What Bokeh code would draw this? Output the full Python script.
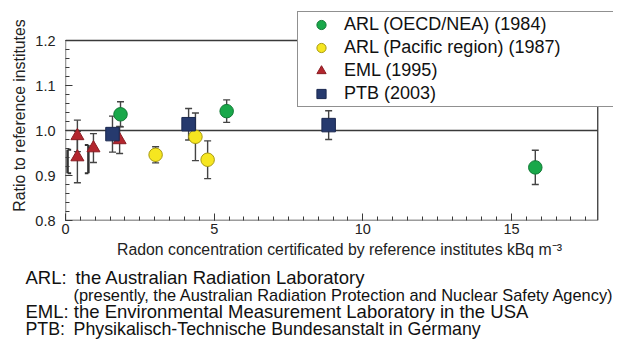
from bokeh.plotting import figure
from bokeh.models import (ColumnDataSource, Whisker, TeeHead, Legend, LegendItem,
                          Range1d, FixedTicker, NumeralTickFormatter, Title)
from bokeh.embed import file_html
from bokeh.resources import INLINE

FONT = "Liberation Sans"

# ---- data ----
green_x = [1.85, 5.42, 15.8]
green_y = [1.036, 1.043, 0.918]
green_err = [0.028, 0.025, 0.038]

yellow_x = [3.03, 4.37, 4.78]
yellow_y = [0.946, 0.986, 0.935]
yellow_err = [0.018, 0.053, 0.042]

red_x = [0.40, 0.40, 0.94, 1.82]
red_y = [0.988, 0.941, 0.961, 0.979]
red_err = [0.035, 0.057, 0.032, 0.030]

blue_x = [1.58, 4.14, 8.85]
blue_y = [0.992, 1.014, 1.012]
blue_err = [0.040, 0.035, 0.032]

bracket_x = [0.07, 0.77]
bracket_lo = [0.905, 0.905]
bracket_hi = [0.957, 0.968]
bracket_side = [1, -1]

reference_ratio = 1.0

x_major = [0, 5, 10, 15]
x_minor = [i * 0.5 for i in range(0, 36)]
y_major = [0.8, 0.9, 1.0, 1.1, 1.2]
y_minor = [round(0.8 + i * 0.02, 2) for i in range(0, 21)]

X_MIN, X_MAX = 0.0, 17.9
Y_MIN, Y_MAX = 0.8, 1.2

series_labels = ["ARL (OECD/NEA) (1984)", "ARL (Pacific region) (1987)",
                 "EML (1995)", "PTB (2003)"]
NB = "\u00a0"
TH = "\u2009"
footnotes = ["ARL:" + NB + TH + "the Australian Radiation Laboratory",
             "(presently, the Australian Radiation Protection and Nuclear Safety Agency)",
             "EML: the Environmental Measurement Laboratory in the USA",
             "PTB:" + NB + TH + "Physikalisch-Technische Bundesanstalt in Germany"]
footnote_offsets = [-40, 8, -40, -40]
footnote_sizes = ["18.5px", "16.4px", "18.5px", "17.8px"]
footnote_standoffs = [9.4, -18.2, 9.4, -17.9]

AX = "#3a3a3a"
ERR = "#444444"

# the frame is a bit larger than the drawn box, so the legend may overhang it
p = figure(width=618, height=345, output_backend="svg", toolbar_location=None,
           x_range=Range1d(0, 18.43), y_range=Range1d(0.8, 1.2667),
           min_border_left=65, min_border_right=5, min_border_top=10, min_border_bottom=125)
p.grid.visible = False
p.outline_line_color = None

for ax in (p.xaxis[0], p.yaxis[0]):
    ax.axis_line_color = None
    ax.major_tick_line_color = AX
    ax.minor_tick_line_color = AX
    ax.major_tick_in = 7
    ax.major_tick_out = 0
    ax.minor_tick_in = 4
    ax.minor_tick_out = 0
    ax.major_label_text_font = FONT
    ax.major_label_text_font_size = "14.5px"
    ax.major_label_text_color = "#222222"
    ax.axis_label_text_font = FONT
    ax.axis_label_text_font_style = "normal"
    ax.axis_label_text_color = "#222222"
    ax.axis_label_text_font_size = "15.8px"

p.xaxis.ticker = FixedTicker(ticks=x_major, minor_ticks=x_minor)
p.yaxis.ticker = FixedTicker(ticks=y_major, minor_ticks=y_minor)
p.yaxis.formatter = NumeralTickFormatter(format="0.0")
p.xaxis.axis_label = "Radon concentration certificated by reference institutes kBq m\u207b\u00b3"
p.yaxis.axis_label = "Ratio to reference institutes"
p.xaxis.major_label_standoff = 3
p.xaxis.axis_label_standoff = 4
p.yaxis.major_label_standoff = 10
p.yaxis.axis_label_standoff = 4

# plot box and reference line
p.segment(x0=[X_MIN, X_MIN, X_MIN, X_MAX], y0=[Y_MIN, Y_MAX, Y_MIN, Y_MIN],
          x1=[X_MAX, X_MAX, X_MIN, X_MAX], y1=[Y_MIN, Y_MAX, Y_MAX, Y_MAX],
          line_color=AX, line_width=1.3)
p.segment(x0=[X_MIN], y0=[reference_ratio], x1=[X_MAX], y1=[reference_ratio],
          line_color=AX, line_width=1.3)


def errbars(xs, ys, es):
    src = ColumnDataSource(dict(x=xs, up=[y + e for y, e in zip(ys, es)],
                                lo=[y - e for y, e in zip(ys, es)]))
    w = Whisker(base="x", upper="up", lower="lo", source=src, dimension="height",
                line_color=ERR, line_width=1.4,
                upper_head=TeeHead(size=7, line_color=ERR, line_width=1.4),
                lower_head=TeeHead(size=7, line_color=ERR, line_width=1.4))
    p.add_layout(w)


# bracket marks near the origin
bsrc = ColumnDataSource(dict(x=bracket_x, lo=bracket_lo, hi=bracket_hi,
                             xc=[x + s * 0.12 for x, s in zip(bracket_x, bracket_side)]))
p.segment(x0="x", y0="lo", x1="x", y1="hi", source=bsrc, line_color="#333333", line_width=2.5)
p.segment(x0="x", y0="lo", x1="xc", y1="lo", source=bsrc, line_color="#333333", line_width=2)
p.segment(x0="x", y0="hi", x1="xc", y1="hi", source=bsrc, line_color="#333333", line_width=2)

errbars(green_x, green_y, green_err)
errbars(yellow_x, yellow_y, yellow_err)
errbars(red_x, red_y, red_err)
errbars(blue_x, blue_y, blue_err)

r_green = p.scatter(green_x, green_y, marker="circle", size=13.5, fill_color="#19a84a",
                    line_color="#127a36", line_width=1)
r_yellow = p.scatter(yellow_x, yellow_y, marker="circle", size=13.5, fill_color="#f6e620",
                     line_color="#a89a10", line_width=1)
r_red = p.scatter(red_x, red_y, marker="triangle", size=13, fill_color="#b3262e",
                  line_color="#8a1c22", line_width=1)
r_blue = p.scatter(blue_x, blue_y, marker="square", size=13.5, fill_color="#263a6e",
                   line_color="#1a2850", line_width=1)

legend = Legend(items=[LegendItem(label=series_labels[0], renderers=[r_green]),
                       LegendItem(label=series_labels[1], renderers=[r_yellow]),
                       LegendItem(label=series_labels[2], renderers=[r_red]),
                       LegendItem(label=series_labels[3], renderers=[r_blue])],
                location=(232, 113), padding=1, spacing=0, label_height=20,
                glyph_height=23, glyph_width=44, label_standoff=1, label_width=268,
                border_line_color="#222222", border_line_width=1.2,
                label_text_font=FONT, label_text_font_size="18px",
                label_text_color="#111111", background_fill_alpha=1,
                label_text_baseline="middle")
p.add_layout(legend, "center")

# footnotes below the chart
for t, o, fs, so in zip(footnotes, footnote_offsets, footnote_sizes, footnote_standoffs):
    p.add_layout(Title(text=t, align="left", offset=o, text_font=FONT,
                       text_font_size=fs, text_font_style="normal",
                       text_color="#111111", standoff=so), "below")

open("out.html", "w").write(file_html(p, INLINE))
